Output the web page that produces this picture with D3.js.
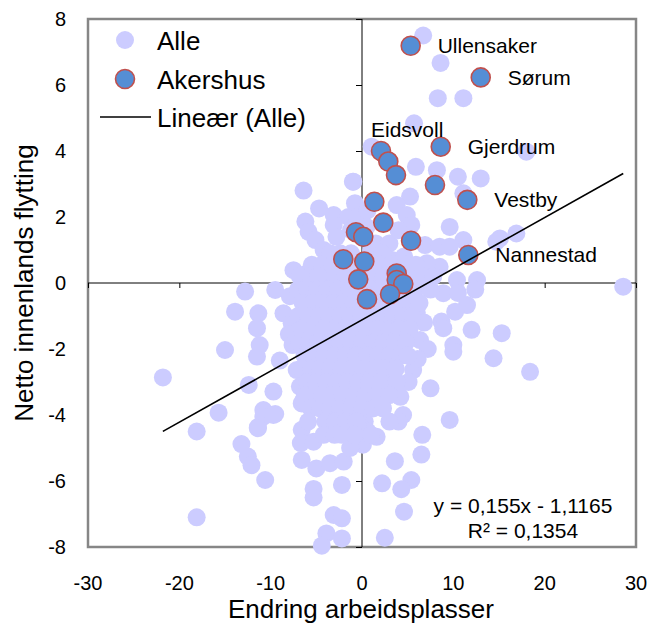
<!DOCTYPE html>
<meta charset="utf-8">
<style>
  body { margin: 0; background: white; }
  text { font-family: Arial, "Liberation Sans", sans-serif; fill: black; }
</style>
<svg width="649" height="623"></svg>
<script src="https://d3js.org/d3.v7.min.js"></script>
<script>
// Alle kommuner: [endring arbeidsplasser, netto innenlands flytting]
var alle = [
  [6.7,7.5],[8.6,6.67],[8.3,5.6],[11.1,5.6],[5.7,4.84],[18.0,3.98],[1.06,4.13],[5.9,3.52],
  [8.2,3.42],[10.5,3.22],[13.0,3.17],[11.1,2.72],[-0.95,3.07],[5.26,2.62],[3.8,2.36],[4.9,2.06],
  [5.4,1.76],[9.6,1.7],[15.1,1.35],[16.9,1.5],[11.1,1.3],[14.7,1.25],[6.9,1.15],[8.5,1.1],
  [9.6,1.1],[8.5,0.49],[7.1,0.6],[6.0,0.4],[10.4,0.09],[12.6,0.09],[28.6,-0.11],[12.4,-0.2],
  [8.9,-0.31],[11.5,-0.67],[10.2,-0.87],[8.7,-1.17],[8.9,-1.37],[12.0,-1.42],[15.3,-1.52],[10.0,-1.88],
  [10.0,-2.08],[14.4,-2.28],[18.4,-2.69],[6.35,-1.73],[7.0,-0.1],[5.6,-2.64],[7.5,-3.19],[4.2,-3.45],
  [2.7,-3.25],[9.6,-4.15],[4.5,-4.0],[6.6,-4.6],[6.5,-5.2],[3.6,-5.4],[5.4,-5.97],[4.3,-6.25],
  [2.2,-6.07],[4.6,-6.93],[2.5,-7.72],[1.6,-4.66],[4.0,-4.2],[3.0,-4.2],[0.3,-4.2],[0.6,-4.5],
  [0.1,-4.9],[-0.4,-4.2],[10.5,-0.3],[6.0,-0.9],[6.8,-1.2],[4.6,-1.6],[7.2,-2.0],[6.1,-2.3],
  [5.1,-3.0],[3.1,-2.8],
  [-6.4,2.8],[-4.7,2.26],[-3.1,2.06],[-1.0,3.07],[-0.77,2.42],[-6.2,1.86],[-5.85,1.55],[-5.1,1.3],
  [-4.2,1.0],[-3.1,1.76],[-2.8,1.4],[-7.5,0.39],[-6.05,0.29],[-4.6,0.49],[-3.9,0.09],[-12.8,-0.26],
  [-9.5,-0.21],[-7.9,-0.4],[-11.35,-0.92],[-13.9,-0.87],[-11.5,-1.37],[-11.2,-1.88],[-11.5,-2.23],[-15.0,-2.03],
  [-9.0,-2.35],[-21.8,-2.86],[-12.4,-3.09],[-9.7,-3.29],[-10.8,-3.85],[-9.5,-3.97],[-15.7,-3.93],[-18.1,-4.5],
  [-11.4,-4.37],[-13.2,-4.88],[-12.5,-5.26],[-12.1,-5.52],[-10.6,-5.97],[-18.1,-7.1],[-8.6,-0.92],[-7.7,-1.22],
  [-8.0,-1.55],[-7.6,-1.88],[-7.15,-2.64],[-6.8,-3.14],[-6.6,-3.65],[-6.4,-3.55],[-6.6,-4.45],[-6.7,-4.85],
  [-5.3,-4.81],[-6.6,-5.36],[-5.0,-5.62],[-3.5,-5.46],[-2.0,-5.41],[-1.3,-5.0],[-5.3,-6.24],[-5.3,-6.5],
  [-2.2,-6.12],[-3.1,-7.03],[-2.2,-7.13],[-3.9,-7.59],[-2.2,-7.74],[-4.4,-7.96],[-10.8,-4.05],[-9.7,-4.0],
  [-11.4,-4.4],[-1.5,2.0],[-1.2,1.6],[-0.5,2.0],[0.6,2.2],[1.0,1.0],[0.5,1.7],[1.5,1.2],
  [3.0,1.2],[4.0,1.6],[3.3,0.7],[4.6,0.8],
  // tett kjerne
  [-3.5,0.9],[-2.4,0.9],[-1.2,0.9],[1.0,0.9],[2.2,0.9],
  [-5.5,0.55],[-4.4,0.55],[-3.2,0.55],[-2.0,0.55],[-0.9,0.55],[0.9,0.55],[2.0,0.55],[3.1,0.55],[4.8,0.55],[5.9,0.55],
  [-6.8,0.2],[-5.6,0.2],[-4.8,0.2],[-3.0,0.2],[-1.8,0.2],[-0.6,0.2],[1.2,0.2],[2.4,0.2],[5.3,0.2],[6.5,0.2],[7.8,0.2],
  [-7.0,-0.2],[-6.0,-0.2],[-4.9,-0.2],[-3.8,-0.2],[-2.6,-0.2],[-1.4,-0.2],[-0.3,-0.2],[1.0,-0.2],[2.0,-0.2],[4.6,-0.2],[5.8,-0.2],[7.5,-0.2],
  [-6.5,-0.6],[-5.4,-0.6],[-4.2,-0.6],[-3.1,-0.6],[-2.0,-0.6],[-0.9,-0.6],[0.3,-0.6],[1.5,-0.6],[2.6,-0.6],[3.8,-0.6],[5.0,-0.6],[6.3,-0.6],
  [-7.0,-1.0],[-5.9,-1.0],[-4.7,-1.0],[-3.6,-1.0],[-2.4,-1.0],[-1.3,-1.0],[-0.1,-1.0],[1.0,-1.0],[2.2,-1.0],[3.4,-1.0],[4.5,-1.0],[5.5,-1.0],
  [-6.6,-1.4],[-5.5,-1.4],[-4.2,-1.4],[-3.0,-1.4],[-1.8,-1.4],[-0.6,-1.4],[0.6,-1.4],[1.8,-1.4],[3.0,-1.4],[4.0,-1.4],[5.2,-1.4],
  [-6.9,-1.8],[-5.8,-1.8],[-4.8,-1.8],[-3.6,-1.8],[-2.4,-1.8],[-1.2,-1.8],[0.0,-1.8],[1.2,-1.8],[2.4,-1.8],[3.6,-1.8],[4.8,-1.8],
  [-6.3,-2.2],[-5.2,-2.2],[-4.1,-2.2],[-3.0,-2.2],[-1.8,-2.2],[-0.6,-2.2],[0.6,-2.2],[1.8,-2.2],[3.0,-2.2],[4.2,-2.2],[5.0,-2.2],
  [-6.6,-2.6],[-5.6,-2.6],[-4.6,-2.6],[-3.5,-2.6],[-2.3,-2.6],[-1.1,-2.6],[0.1,-2.6],[1.3,-2.6],[2.5,-2.6],[3.7,-2.6],
  [-6.0,-3.0],[-5.0,-3.0],[-3.9,-3.0],[-2.8,-3.0],[-1.6,-3.0],[-0.4,-3.0],[0.8,-3.0],[2.0,-3.0],[3.8,-3.0],
  [-6.2,-3.4],[-5.3,-3.4],[-4.4,-3.4],[-3.3,-3.4],[-2.1,-3.4],[-0.9,-3.4],[0.4,-3.4],[1.6,-3.4],[3.0,-3.4],
  [-5.6,-3.8],[-4.6,-3.8],[-3.5,-3.8],[-2.4,-3.8],[-1.2,-3.8],[0.0,-3.8],[1.2,-3.8],[2.3,-3.8],
  [-5.9,-4.2],[-4.0,-4.2],[-2.9,-4.2],[-1.8,-4.2],[-0.6,-4.2],
  [-4.2,-4.6],[-3.0,-4.6],[-2.2,-4.6],[-0.8,-4.6],[1.0,-4.6]
];

// Akershus-kommuner
var akershus = [
  [5.33,7.19],[13.0,6.23],[8.62,4.13],[2.08,4.0],[2.88,3.68],[3.72,3.27],[7.99,2.97],[11.53,2.52],
  [1.35,2.46],[2.33,1.83],[-0.66,1.54],[0.14,1.4],[5.37,1.28],[11.64,0.85],[-2.05,0.72],[0.25,0.65],
  [-0.41,0.11],[3.8,0.29],[3.8,0.09],[4.52,-0.03],[0.55,-0.49],[3.07,-0.34]
];
var akershusNames = ["Ullensaker","Sørum","Gjerdrum","Eidsvoll","","","","Vestby",
  "","","","","","Nannestad","","","","","","","",""];

var slope = 0.155, intercept = -1.1165;
var equation = ["y = 0,155x - 1,1165", "R² = 0,1354"];
var xTicks = [-30,-20,-10,0,10,20,30];
var yTicks = [-8,-6,-4,-2,0,2,4,6,8];
var legendItems = ["Alle", "Akershus", "Lineær (Alle)"];

var svg = d3.select("svg");
var pl = 88, pr = 636, pt = 19, pb = 547;

var x = d3.scaleLinear().domain([-30, 30]).range([pl, pr]);
var y = d3.scaleLinear().domain([-8, 8]).range([pb, pt]);

// ramme
svg.append("rect")
  .attr("x", pl).attr("y", pt)
  .attr("width", pr - pl).attr("height", pb - pt)
  .attr("fill", "white").attr("stroke", "#868686").attr("stroke-width", 2.5);

// akser gjennom null
svg.append("g")
  .attr("transform", "translate(0," + y(0) + ")")
  .call(d3.axisBottom(x).tickValues(xTicks).tickSize(5).tickFormat(""))
  .call(function(g) { g.select(".domain").attr("d", "M" + pl + ",0H" + pr); });
svg.append("g")
  .attr("transform", "translate(" + x(0) + ",0)")
  .call(d3.axisLeft(y).tickValues(yTicks).tickSize(6).tickFormat(""))
  .call(function(g) { g.select(".domain").attr("d", "M0," + pt + "V" + pb); });

// tick-tekster langs kanten
svg.append("g").selectAll("text")
  .data(xTicks).join("text")
  .attr("x", d => x(d)).attr("y", 590)
  .attr("text-anchor", "middle").attr("font-size", 20)
  .text(d => d);
svg.append("g").selectAll("text")
  .data(yTicks).join("text")
  .attr("x", 66).attr("y", d => y(d)).attr("dy", "0.36em")
  .attr("text-anchor", "end").attr("font-size", 20)
  .text(d => d);

// punkter
svg.append("g").selectAll("circle")
  .data(alle).join("circle")
  .attr("cx", d => x(d[0])).attr("cy", d => y(d[1]))
  .attr("r", 9).attr("fill", "#ccccff");

svg.append("g").selectAll("circle")
  .data(akershus).join("circle")
  .attr("cx", d => x(d[0])).attr("cy", d => y(d[1]))
  .attr("r", 9.5).attr("fill", "#558ed5")
  .attr("stroke", "#c0504d").attr("stroke-width", 1.6);

// trendlinje
var xr = d3.extent(alle, d => d[0]);
svg.append("line")
  .attr("x1", x(xr[0])).attr("y1", y(slope * xr[0] + intercept))
  .attr("x2", x(xr[1])).attr("y2", y(slope * xr[1] + intercept))
  .attr("stroke", "black").attr("stroke-width", 1.6);

// navn
svg.append("g").selectAll("text")
  .data(akershus.map((d, i) => [d[0], d[1], akershusNames[i]]).filter(d => d[2]))
  .join("text")
  .attr("x", d => x(d[0]) + (d[2] == "Eidsvoll" ? -10 : 27))
  .attr("y", d => y(d[1]) + (d[2] == "Eidsvoll" ? -21 : 0))
  .attr("dy", "0.35em").attr("font-size", 21)
  .text(d => d[2]);

// likning
svg.append("g").selectAll("text")
  .data(equation).join("text")
  .attr("x", 523).attr("y", (d, i) => 513 + i * 25)
  .attr("text-anchor", "middle").attr("font-size", 21)
  .text(d => d);

// legend
var lg = svg.append("g");
lg.append("circle").attr("cx", 125).attr("cy", 40).attr("r", 9).attr("fill", "#ccccff");
lg.append("circle").attr("cx", 125).attr("cy", 79).attr("r", 9.5).attr("fill", "#558ed5")
  .attr("stroke", "#c0504d").attr("stroke-width", 1.6);
lg.append("line").attr("x1", 100).attr("x2", 151).attr("y1", 117).attr("y2", 117)
  .attr("stroke", "black").attr("stroke-width", 1.6);
lg.selectAll("text").data(legendItems).join("text")
  .attr("x", 157).attr("y", (d, i) => 41 + i * 38.5).attr("dy", "0.35em")
  .attr("font-size", 26).text(d => d);

// aksetitler
svg.append("text")
  .attr("x", (pl + pr) / 2 - 1).attr("y", 618)
  .attr("text-anchor", "middle").attr("font-size", 26)
  .text("Endring arbeidsplasser");
svg.append("text")
  .attr("transform", "translate(33," + ((pt + pb) / 2) + ") rotate(-90)")
  .attr("text-anchor", "middle").attr("font-size", 26)
  .text("Netto innenlands flytting");
</script>
